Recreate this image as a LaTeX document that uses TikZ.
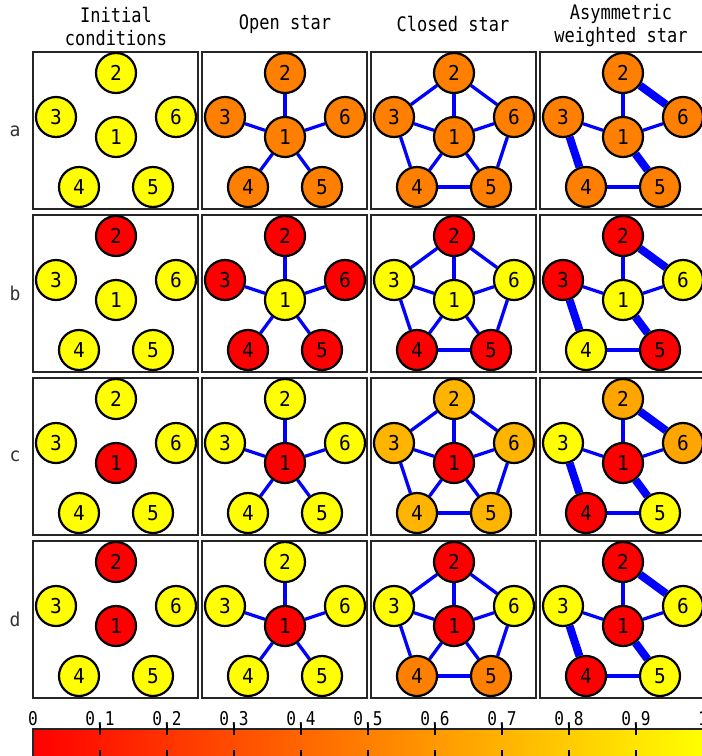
\documentclass[tikz,border=0pt]{standalone}
\usepackage{fontspec}
\newfontfamily\hdrfont[FakeStretch=0.85]{DejaVu Sans Mono}
\newfontfamily\numfont[FakeStretch=0.95]{DejaVu Sans Mono}
\definecolor{cyel}{RGB}{255,255,0}
\definecolor{cred}{RGB}{255,0,0}
\definecolor{corg}{RGB}{255,128,0}
\definecolor{clor}{RGB}{255,180,0}
\definecolor{cmor}{RGB}{255,165,0}
\definecolor{cblue}{RGB}{0,0,255}
\pgfdeclarelayer{bg}
\pgfsetlayers{bg,main}
\tikzset{
  frame/.style={draw=black!85, line width=1.5pt, rectangle, minimum width=165pt, minimum height=157pt, inner sep=0pt},
  ball/.style={circle, draw=black, line width=2.2pt, minimum size=40pt, inner sep=0pt, font=\numfont\fontsize{20.5}{20.5}\selectfont},
  edge/.style={draw=cblue, line width=3.3pt},
  heavyedge/.style={draw=cblue, line width=8pt},
  header/.style={font=\hdrfont\fontsize{20}{23}\selectfont, align=center, inner sep=0pt},
  rowlab/.style={font=\numfont\fontsize{19}{19}\selectfont, text=black!80, inner sep=0pt},
  barlab/.style={font=\hdrfont\fontsize{19}{19}\selectfont, inner sep=0pt},
  tickmark/.style={draw=black, line width=1.2pt}
}
\newcommand\mypanel[9]{%
  \begin{scope}[shift={({33+169*#3},{52+163*#2})}]
    \node[frame] (f#1#3) at (82.5,78.5) {};
    \node[ball,fill=#4] (#1#3-1) at (83,85) {1};
    \node[ball,fill=#5] (#1#3-2) at (83,21) {2};
    \node[ball,fill=#6] (#1#3-3) at (23,65) {3};
    \node[ball,fill=#7] (#1#3-4) at (46,135) {4};
    \node[ball,fill=#8] (#1#3-5) at (120,135) {5};
    \node[ball,fill=#9] (#1#3-6) at (143,65) {6};
  \end{scope}}
\newcommand\openE[1]{%
  \begin{pgfonlayer}{bg}
    \foreach \k in {2,...,6} {\draw[edge] (#1-1) -- (#1-\k);}
  \end{pgfonlayer}}
\newcommand\closedE[1]{%
  \begin{pgfonlayer}{bg}
    \foreach \k in {2,...,6} {\draw[edge] (#1-1) -- (#1-\k);}
    \draw[edge] (#1-2) -- (#1-3);
    \draw[edge] (#1-3) -- (#1-4);
    \draw[edge] (#1-4) -- (#1-5);
    \draw[edge] (#1-5) -- (#1-6);
    \draw[edge] (#1-6) -- (#1-2);
  \end{pgfonlayer}}
\newcommand\asymE[1]{%
  \begin{pgfonlayer}{bg}
    \draw[edge] (#1-1) -- (#1-2);
    \draw[edge] (#1-1) -- (#1-3);
    \draw[edge] (#1-1) -- (#1-6);
    \draw[edge] (#1-4) -- (#1-5);
    \draw[heavyedge] (#1-2) -- (#1-6);
    \draw[heavyedge] (#1-3) -- (#1-4);
    \draw[heavyedge] (#1-1) -- (#1-5);
  \end{pgfonlayer}}
\begin{document}
\begin{tikzpicture}[x=1pt,y=-1pt]
\useasboundingbox (0,0) rectangle (702,756);
% headers
\node[header] (h1) at (116,26) {Initial\\conditions};
\node[header] (h2) at (285,24) {Open star};
\node[header] (h3) at (453,24) {Closed star};
\node[header] (h4) at (621,26) {Asymmetric\\weighted star};
% row labels
\node[rowlab] (la) at (15,131) {a};
\node[rowlab] (lb) at (15,293) {b};
\node[rowlab] (lc) at (15,456) {c};
\node[rowlab] (ld) at (15,619) {d};
% row a
\mypanel{a}{0}{0}{cyel}{cyel}{cyel}{cyel}{cyel}{cyel}
\mypanel{a}{0}{1}{corg}{corg}{corg}{corg}{corg}{corg}
\mypanel{a}{0}{2}{corg}{corg}{corg}{corg}{corg}{corg}
\mypanel{a}{0}{3}{corg}{corg}{corg}{corg}{corg}{corg}
\openE{a1}\closedE{a2}\asymE{a3}
% row b
\mypanel{b}{1}{0}{cyel}{cred}{cyel}{cyel}{cyel}{cyel}
\mypanel{b}{1}{1}{cyel}{cred}{cred}{cred}{cred}{cred}
\mypanel{b}{1}{2}{cyel}{cred}{cyel}{cred}{cred}{cyel}
\mypanel{b}{1}{3}{cyel}{cred}{cred}{cyel}{cred}{cyel}
\openE{b1}\closedE{b2}\asymE{b3}
% row c
\mypanel{c}{2}{0}{cred}{cyel}{cyel}{cyel}{cyel}{cyel}
\mypanel{c}{2}{1}{cred}{cyel}{cyel}{cyel}{cyel}{cyel}
\mypanel{c}{2}{2}{cred}{clor}{clor}{clor}{clor}{clor}
\mypanel{c}{2}{3}{cred}{cmor}{cyel}{cred}{cyel}{cmor}
\openE{c1}\closedE{c2}\asymE{c3}
% row d
\mypanel{d}{3}{0}{cred}{cred}{cyel}{cyel}{cyel}{cyel}
\mypanel{d}{3}{1}{cred}{cyel}{cyel}{cyel}{cyel}{cyel}
\mypanel{d}{3}{2}{cred}{cred}{cyel}{corg}{corg}{cyel}
\mypanel{d}{3}{3}{cred}{cred}{cyel}{cred}{cyel}{cyel}
\openE{d1}\closedE{d2}\asymE{d3}
% colour bar
\shade[left color=cred, right color=cyel] (33,729) rectangle (703,758);
\draw[line width=1.5pt, black!85] (33,729) rectangle (703,758);
\foreach \i/\t in {0/0,1/0.1,2/0.2,3/0.3,4/0.4,5/0.5,6/0.6,7/0.7,8/0.8,9/0.9,10/1} {
  \node[barlab] (t\i) at ({33+67*\i},719) {\t};
}
\foreach \i in {1,...,9} {
  \draw[tickmark] ({33+67*\i},725) -- ({33+67*\i},735);
  \draw[tickmark] ({33+67*\i},750) -- ({33+67*\i},756);
}
\end{tikzpicture}
\end{document}
